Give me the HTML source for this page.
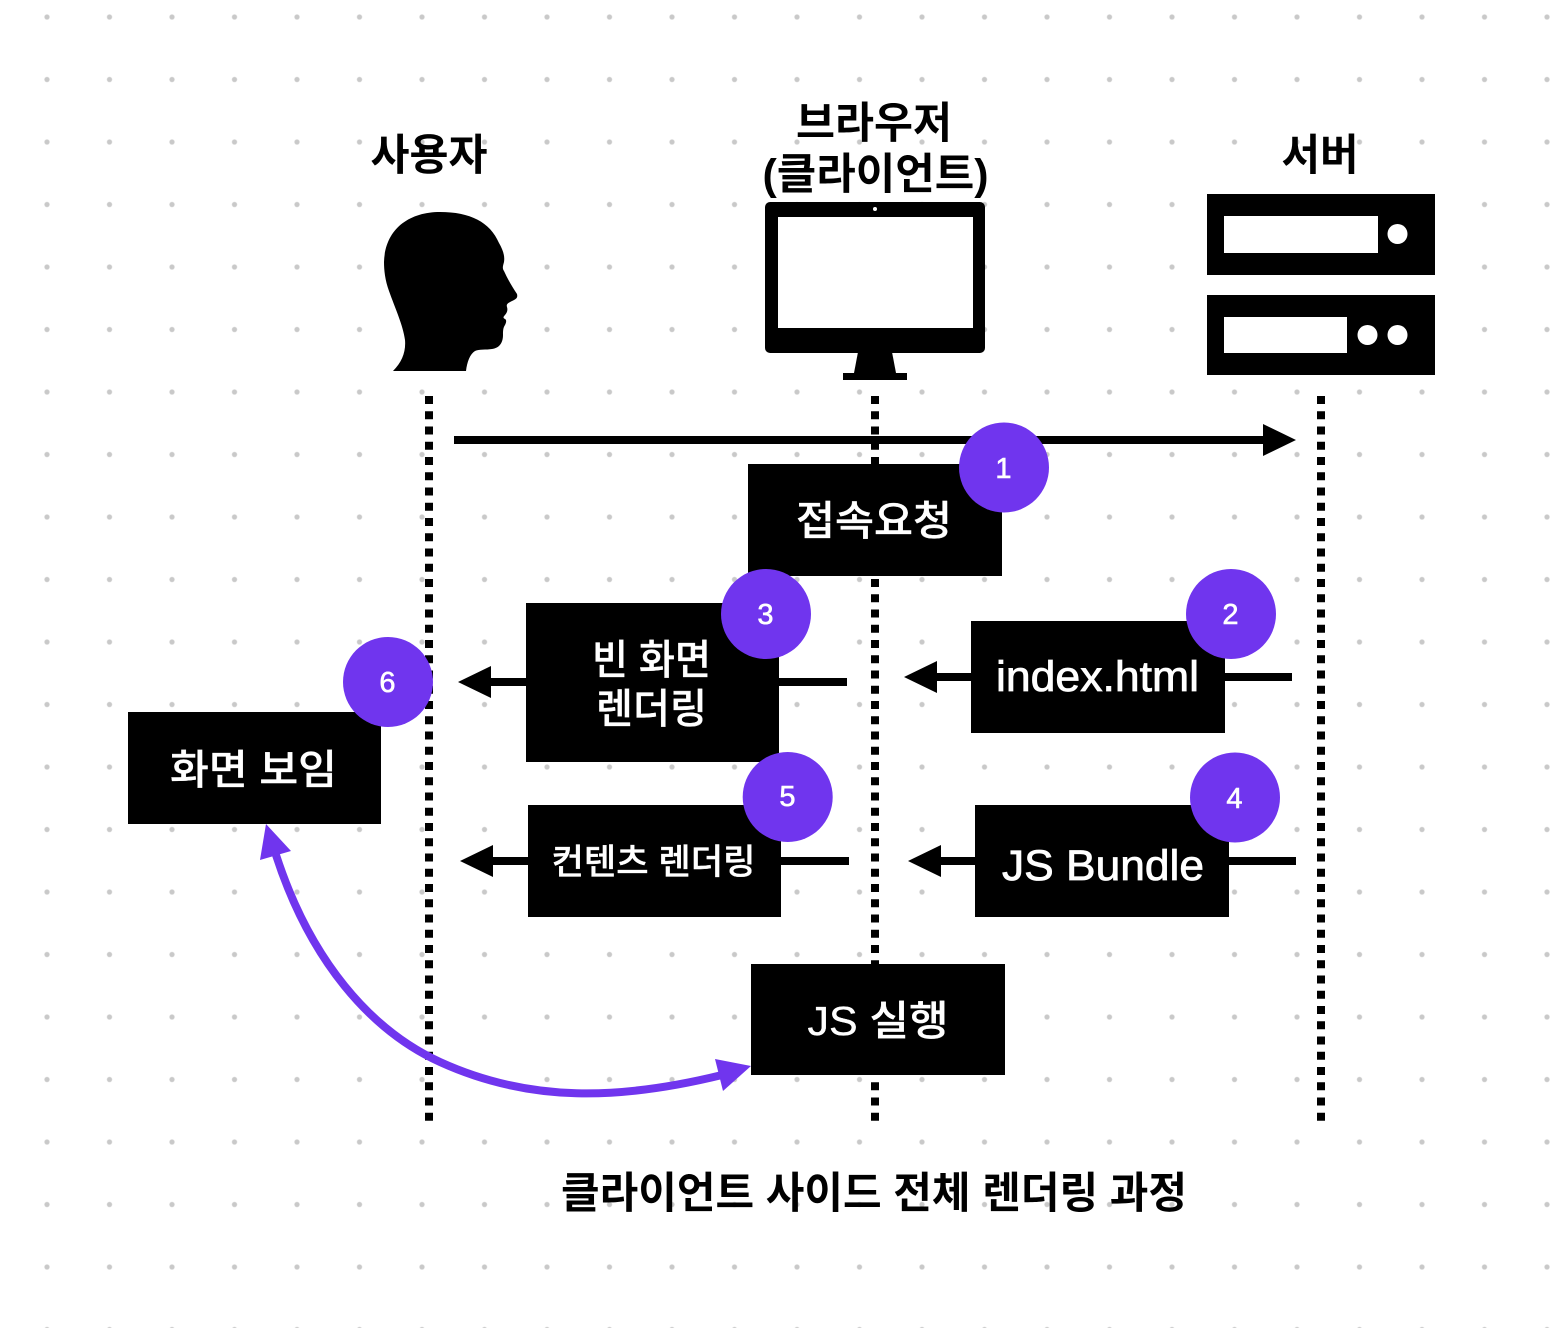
<!DOCTYPE html>
<html lang="ko"><head><meta charset="utf-8">
<style>
html,body{margin:0;padding:0;background:#fff}
svg{display:block}
text{font-family:"Liberation Sans","Noto Sans CJK KR",sans-serif}
.t{fill:#000;font-weight:700;text-anchor:middle;font-size:43px}
.w{fill:#fff;stroke:#fff;stroke-width:.35px;text-anchor:middle;font-size:41px;font-weight:500}
.l{fill:#fff;stroke:#fff;stroke-width:.8px;text-anchor:middle;font-size:43px}
.n{fill:#fff;stroke:#fff;stroke-width:.6px;text-anchor:middle;font-size:29px}
</style></head><body>
<svg width="1552" height="1328" viewBox="0 0 1552 1328" xmlns="http://www.w3.org/2000/svg">
<defs>
<pattern id="d" x="15.75" y="-14.25" width="62.5" height="62.5" patternUnits="userSpaceOnUse"><circle cx="31.25" cy="31.25" r="2.6" fill="#c9c9c9"/></pattern>
</defs>
<rect width="1552" height="1328" fill="#fff"/>
<rect width="1552" height="1328" fill="url(#d)"/>

<!-- lifelines -->
<g stroke="#000" stroke-width="8" stroke-dasharray="8 7.25" fill="none">
<line x1="429" y1="396" x2="429" y2="1121"/>
<line x1="875" y1="396" x2="875" y2="1121"/>
<line x1="1321" y1="396" x2="1321" y2="1121"/>
</g>

<!-- titles -->
<text class="t" x="429" y="170" textLength="117" lengthAdjust="spacingAndGlyphs">사용자</text>
<text class="t" x="874" y="138" textLength="156" lengthAdjust="spacingAndGlyphs">브라우저</text>
<text class="t" x="875.500" y="189" textLength="226" lengthAdjust="spacingAndGlyphs">(클라이언트)</text>
<text class="t" x="1320" y="170" textLength="77" lengthAdjust="spacingAndGlyphs">서버</text>

<!-- head -->
<path d="M440 212C470 212 490 222 499 243C503 250 505 256 504 262C503 266 502 268 504 271C508 280 513 288 517 294C518 298 516 299 512 301C508 303 506 304 507 307C508 310 507 313 505 315C503 317 503 318 505 319C507 320 506 323 505 325C503 328 503 331 503 335C503 342 500 348 492 349C486 350 479 349 475 351C470 354 467 362 466 371L393 371C402 362 406 352 405 340C403 325 395 308 389 291C385 280 384 270 384 262C385 230 408 212 440 212Z" fill="#000"/>

<!-- monitor -->
<rect x="765" y="202" width="220" height="151" rx="5" fill="#000"/>
<rect x="778" y="217" width="195" height="111" fill="#fff"/>
<circle cx="875" cy="209" r="2" fill="#fff"/>
<path d="M858 352L892 352L896 373L854 373Z" fill="#000"/>
<rect x="843" y="373" width="64" height="7" fill="#000"/>

<!-- server -->
<rect x="1207" y="194" width="228" height="81" fill="#000"/>
<rect x="1224" y="216" width="154" height="37" fill="#fff"/>
<circle cx="1397.500" cy="234" r="10" fill="#fff"/>
<rect x="1207" y="295" width="228" height="80" fill="#000"/>
<rect x="1224" y="317" width="123" height="36" fill="#fff"/>
<circle cx="1367.500" cy="335" r="10" fill="#fff"/>
<circle cx="1397.500" cy="335" r="10" fill="#fff"/>

<!-- arrow to server -->
<rect x="454" y="436" width="812" height="8" fill="#000"/>
<path d="M1296 440L1263 424L1263 456Z" fill="#000"/>

<!-- arrows -->
<g fill="#000">
<rect x="490" y="678" width="357" height="8"/><path d="M458 682L491 666L491 698Z"/>
<rect x="936" y="673" width="356" height="8"/><path d="M904 677L937 661L937 693Z"/>
<rect x="492" y="857" width="357" height="8"/><path d="M460 861L493 845L493 877Z"/>
<rect x="940" y="857" width="356" height="8"/><path d="M908 861L941 845L941 877Z"/>
</g>

<!-- boxes -->
<g fill="#000">
<rect x="748" y="464" width="254" height="112"/>
<rect x="971" y="621" width="254" height="112"/>
<rect x="526" y="603" width="253" height="159"/>
<rect x="128" y="712" width="253" height="112"/>
<rect x="528" y="805" width="253" height="112"/>
<rect x="975" y="805" width="254" height="112"/>
<rect x="751" y="964" width="254" height="111"/>
</g>

<!-- purple curve -->
<path d="M276 855C310 960 370 1030 440 1062C530 1103 620 1100 722 1075" fill="none" stroke="#7035ee" stroke-width="8"/>
<path d="M266 824L291 851L260 860Z" fill="#7035ee"/>
<path d="M751 1066L715 1059L723 1091Z" fill="#7035ee"/>

<!-- circles -->
<g fill="#7035ee">
<circle cx="1004" cy="467.500" r="45"/>
<circle cx="1231" cy="614" r="45"/>
<circle cx="766" cy="614" r="45"/>
<circle cx="1235" cy="797.500" r="45"/>
<circle cx="787.700" cy="797" r="45"/>
<circle cx="388" cy="682" r="45"/>
</g>
<text class="n" x="1003.500" y="478">1</text>
<text class="n" x="1230.500" y="624">2</text>
<text class="n" x="765.500" y="624">3</text>
<text class="n" x="1234.500" y="808">4</text>
<text class="n" x="787.500" y="806">5</text>
<text class="n" x="387.500" y="692">6</text>

<!-- labels -->
<text class="w" x="874" y="535" textLength="156" lengthAdjust="spacingAndGlyphs">접속요청</text>
<text class="l" x="1097.500" y="691" textLength="203" lengthAdjust="spacingAndGlyphs">index.html</text>
<text class="w" x="651.500" y="674" textLength="119" lengthAdjust="spacingAndGlyphs">빈 화면</text>
<text class="w" x="651.500" y="723" textLength="111" lengthAdjust="spacingAndGlyphs">렌더링</text>
<text class="w" x="253.500" y="784" textLength="167" lengthAdjust="spacingAndGlyphs">화면 보임</text>
<text class="w" x="653.500" y="874" style="font-size:35px" textLength="204" lengthAdjust="spacingAndGlyphs">컨텐츠 렌더링</text>
<text class="l" x="1103" y="880" textLength="202" lengthAdjust="spacingAndGlyphs">JS Bundle</text>
<text class="w" x="878" y="1035" textLength="141" lengthAdjust="spacingAndGlyphs">JS 실행</text>

<text class="t" x="874" y="1208" textLength="626" lengthAdjust="spacingAndGlyphs">클라이언트 사이드 전체 렌더링 과정</text>
</svg>
</body></html>
